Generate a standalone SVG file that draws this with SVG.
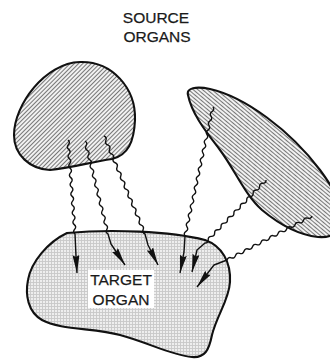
<svg xmlns="http://www.w3.org/2000/svg" width="330" height="360" viewBox="0 0 330 360">
<style>
.outline{stroke:#111;stroke-width:2.1;stroke-linejoin:round}
.wave{fill:none;stroke:#111;stroke-width:1.4;stroke-linejoin:round;marker-end:url(#arrow)}
.lbl{font-family:"Liberation Sans",Arial,sans-serif;font-size:15.5px;fill:#1a1a1a;text-anchor:middle;stroke:#1a1a1a;stroke-width:0.25}
</style>
<defs>
<pattern id="hatchL" patternUnits="userSpaceOnUse" width="3" height="3" patternTransform="rotate(-45)">
<rect width="3" height="3" fill="#fff"/>
<line x1="0" y1="1.5" x2="3" y2="1.5" stroke="#777" stroke-width="1.2"/>
</pattern>
<pattern id="hatchR" patternUnits="userSpaceOnUse" width="3" height="3" patternTransform="rotate(40)">
<rect width="3" height="3" fill="#fff"/>
<line x1="0" y1="1.5" x2="3" y2="1.5" stroke="#777" stroke-width="1.2"/>
</pattern>
<pattern id="stipple" patternUnits="userSpaceOnUse" width="3" height="3">
<rect width="3" height="3" fill="#eeeeee"/>
<path d="M0,0.5H3M0.5,0V3" stroke="#c8c8c8" stroke-width="0.9"/>
</pattern>
<marker id="arrow" markerUnits="userSpaceOnUse" markerWidth="18" markerHeight="7" viewBox="0 0 18 7" refX="18" refY="3.5" orient="auto">
<path d="M0,0 L18,3.5 L0,7 L2,3.5 Z" fill="#111"/>
</marker>
</defs>
<rect width="330" height="360" fill="#fff"/>

<g id="title">
<text class="lbl" x="156" y="23">SOURCE</text>
<text class="lbl" x="157" y="42">ORGANS</text>
</g>

<g id="source-organ-1">
<path class="outline" fill="url(#hatchL)" d="M50,170 C30,169 14,155 14,135 C14,105 45,63 80,62 C112,61 136,88 135,120 C134,142 128,155 112,159 C90,162 72,168 50,170 Z"/>
</g>

<g id="source-organ-2">
<path class="outline" fill="url(#hatchR)" d="M188,95 C186,88 196,86 210,89 C245,97 290,130 320,170 C332,186 340,200 340,215 C340,235 330,238 318,237 C300,235 280,225 262,210 C245,195 235,170 220,150 C208,134 192,115 188,95 Z"/>
</g>

<g id="target-organ">
<path class="outline" fill="url(#stipple)" d="M67,233 C110,229 170,231 205,240 C222,246 231,262 230,282 C229,300 217,315 212,335 C209,350 205,358 192,357 C170,355 150,343 120,335 C95,328 60,330 42,320 C28,312 25,295 28,280 C31,262 48,242 67,233 Z"/>
<rect x="88" y="270" width="66" height="38" fill="#fff"/>
<text class="lbl" x="121" y="285">TARGET</text>
<text class="lbl" x="121" y="305">ORGAN</text>
</g>

<g id="connectors">
<path class="wave" d="M68,140 q2.57,2.17 0.35,4.7 t0.35,4.7 t0.35,4.7 t0.35,4.7 t0.35,4.7 t0.35,4.7 t0.35,4.7 t0.35,4.7 t0.35,4.7 t0.35,4.7 t0.35,4.7 t0.35,4.7 t0.35,4.7 t0.35,4.7 t0.35,4.7 t0.35,4.7 t0.35,4.7 t0.35,4.7 t0.35,4.7 t0.35,4.7 L76,256 L77,273"/>
<path class="wave" d="M85,141 q2.91,1.75 1.15,4.65 t1.15,4.65 t1.15,4.65 t1.15,4.65 t1.15,4.65 t1.15,4.65 t1.15,4.65 t1.15,4.65 t1.15,4.65 t1.15,4.65 t1.15,4.65 t1.15,4.65 t1.15,4.65 t1.15,4.65 t1.15,4.65 t1.15,4.65 t1.15,4.65 t1.15,4.65 t1.15,4.65 t1.15,4.65 L111,244 L125,265"/>
<path class="wave" d="M104,136 q3.15,1.3 1.864,4.455 t1.864,4.455 t1.864,4.455 t1.864,4.455 t1.864,4.455 t1.864,4.455 t1.864,4.455 t1.864,4.455 t1.864,4.455 t1.864,4.455 t1.864,4.455 t1.864,4.455 t1.864,4.455 t1.864,4.455 t1.864,4.455 t1.864,4.455 t1.864,4.455 t1.864,4.455 t1.864,4.455 t1.864,4.455 t1.864,4.455 t1.864,4.455 L148,245 L158,265"/>
<path class="wave" d="M213,107 q1.84,2.81 -1,4.607 t-1,4.607 t-1,4.607 t-1,4.607 t-1,4.607 t-1,4.607 t-1,4.607 t-1,4.607 t-1,4.607 t-1,4.607 t-1,4.607 t-1,4.607 t-1,4.607 t-1,4.607 t-1,4.607 t-1,4.607 t-1,4.607 t-1,4.607 t-1,4.607 t-1,4.607 t-1,4.607 t-1,4.607 t-1,4.607 t-1,4.607 t-1,4.607 t-1,4.607 t-1,4.607 t-1,4.607 L184,252 L180,273"/>
<path class="wave" d="M266,180 q0.12,3.33 -3.211,3.316 t-3.211,3.316 t-3.211,3.316 t-3.211,3.316 t-3.211,3.316 t-3.211,3.316 t-3.211,3.316 t-3.211,3.316 t-3.211,3.316 t-3.211,3.316 t-3.211,3.316 t-3.211,3.316 t-3.211,3.316 t-3.211,3.316 t-3.211,3.316 t-3.211,3.316 t-3.211,3.316 t-3.211,3.316 t-3.211,3.316 L197,250 L192,272"/>
<path class="wave" d="M312,216 q-1.02,3.23 -4.25,2.2 t-4.25,2.2 t-4.25,2.2 t-4.25,2.2 t-4.25,2.2 t-4.25,2.2 t-4.25,2.2 t-4.25,2.2 t-4.25,2.2 t-4.25,2.2 t-4.25,2.2 t-4.25,2.2 t-4.25,2.2 t-4.25,2.2 t-4.25,2.2 t-4.25,2.2 t-4.25,2.2 t-4.25,2.2 t-4.25,2.2 t-4.25,2.2 L214,265 L197,287"/>
</g>
</svg>
